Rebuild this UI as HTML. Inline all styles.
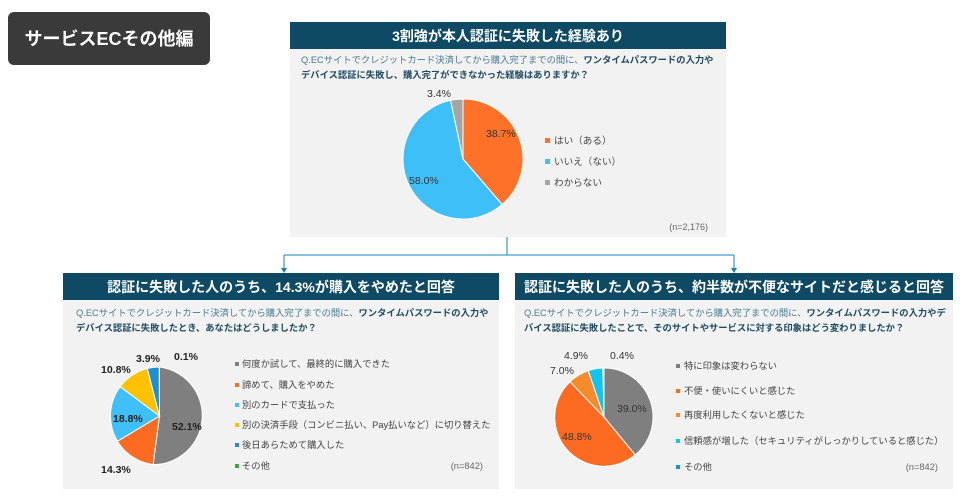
<!DOCTYPE html>
<html><head><meta charset="utf-8"><style>
body{margin:0;background:#fff;width:969px;height:499px;overflow:hidden;font-family:"Liberation Sans","Noto Sans CJK JP",sans-serif}
svg text{font-family:"Liberation Sans","Noto Sans CJK JP",sans-serif}
</style></head><body>
<svg width="969" height="499" viewBox="0 0 969 499" xmlns="http://www.w3.org/2000/svg">
<rect x="8" y="12" width="202" height="53" rx="6" fill="#3a3a3a"/>
<text x="109" y="45" font-size="18" font-weight="bold" fill="#fff" text-anchor="middle">サービスECその他編</text>

<!-- top panel -->
<rect x="290" y="22" width="436" height="215" fill="#f2f2f2"/>
<rect x="290" y="22" width="436" height="27" fill="#0e4a64"/>
<text x="508" y="41" font-size="14" font-weight="bold" fill="#fff" text-anchor="middle">3割強が本人認証に失敗した経験あり</text>
<text x="301" y="63" font-size="9.3" fill="#4a7a90">Q.ECサイトでクレジットカード決済してから購入完了までの間に、<tspan font-weight="bold" fill="#1e4a60">ワンタイムパスワードの入力や</tspan></text>
<text x="301" y="78" font-size="9.3" font-weight="bold" fill="#1e4a60">デバイス認証に失敗し、購入完了ができなかった経験はありますか？</text>
<path d="M463,159 L463,99 A60,60 0 0 1 502.1,204.5 Z" fill="#fd7128" stroke="#fff" stroke-width="1"/>
<path d="M463,159 L502.1,204.5 A60,60 0 1 1 450.6,100.3 Z" fill="#3fbff7" stroke="#fff" stroke-width="1"/>
<path d="M463,159 L450.6,100.3 A60,60 0 0 1 463,99 Z" fill="#a5a5a5" stroke="#fff" stroke-width="1"/>
<text x="486" y="137" font-size="10.5" fill="#333">38.7%</text>
<text x="409" y="184" font-size="10.5" fill="#333">58.0%</text>
<text x="427" y="97" font-size="10.5" fill="#333">3.4%</text>
<rect x="545" y="138" width="5" height="5" fill="#fd7128"/><text x="554" y="144" font-size="9.6" fill="#444">はい（ある）</text>
<rect x="545" y="159" width="5" height="5" fill="#3fbff7"/><text x="554" y="165" font-size="9.6" fill="#444">いいえ（ない）</text>
<rect x="545" y="180" width="5" height="5" fill="#a5a5a5"/><text x="554" y="186" font-size="9.6" fill="#444">わからない</text>
<text x="708" y="230" font-size="9" fill="#666" text-anchor="end">(n=2,176)</text>

<!-- connector -->
<g stroke="#1a7fb8" stroke-width="1" fill="none">
<path d="M507,237 V255 M284,255 H734 M284,255 V270 M734,255 V270"/></g>
<path d="M281,268 L287,268 L284,273 Z M731,268 L737,268 L734,273 Z" fill="#1a7fb8"/>

<!-- left panel -->
<rect x="63" y="273" width="436" height="216" fill="#f2f2f2"/>
<rect x="63" y="273" width="436" height="27" fill="#0e4a64"/>
<text x="281" y="292" font-size="14" font-weight="bold" fill="#fff" text-anchor="middle">認証に失敗した人のうち、14.3%が購入をやめたと回答</text>
<text x="76" y="316" font-size="9.3" fill="#4a7a90">Q.ECサイトでクレジットカード決済してから購入完了までの間に、<tspan font-weight="bold" fill="#1e4a60">ワンタイムパスワードの入力や</tspan></text>
<text x="76" y="331" font-size="9.3" font-weight="bold" fill="#1e4a60">デバイス認証に失敗したとき、あなたはどうしましたか？</text>
<g stroke="#fff" stroke-width="1">
<path d="M159.5,416 L159.5,367 A49,49 0 0 1 153.1,464.6 Z" fill="#7f7f7f"/>
<path d="M159.5,416 L153.1,464.6 A49,49 0 0 1 117.5,441.2 Z" fill="#fd6a22"/>
<path d="M159.5,416 L117.5,441.2 A49,49 0 0 1 120.2,386.7 Z" fill="#3fbff7"/>
<path d="M159.5,416 L120.2,386.7 A49,49 0 0 1 147.3,368.5 Z" fill="#ffc000"/>
<path d="M159.5,416 L147.3,368.5 A49,49 0 0 1 159.2,367 Z" fill="#1d8fd4"/>
</g>
<text x="172" y="430" font-size="10.5" fill="#222" font-weight="bold">52.1%</text>
<text x="113" y="422" font-size="10.5" fill="#222" font-weight="bold">18.8%</text>
<text x="101" y="473" font-size="10.5" fill="#222" font-weight="bold">14.3%</text>
<text x="101" y="373" font-size="10.5" fill="#222" font-weight="bold">10.8%</text>
<text x="136" y="362" font-size="10.5" fill="#222" font-weight="bold">3.9%</text>
<text x="174" y="360" font-size="10.5" fill="#222" font-weight="bold">0.1%</text>
<g font-size="9.3" fill="#444">
<rect x="235" y="362" width="4" height="4" fill="#7f7f7f"/><text x="242" y="367">何度か試して、最終的に購入できた</text>
<rect x="235" y="383" width="4" height="4" fill="#fd6a22"/><text x="242" y="388">諦めて、購入をやめた</text>
<rect x="235" y="403" width="4" height="4" fill="#3fbff7"/><text x="242" y="408">別のカードで支払った</text>
<rect x="235" y="423" width="4" height="4" fill="#ffc000"/><text x="242" y="428">別の決済手段（コンビニ払い、Pay払いなど）に切り替えた</text>
<rect x="235" y="443" width="4" height="4" fill="#1d8fd4"/><text x="242" y="448">後日あらためて購入した</text>
<rect x="235" y="464" width="4" height="4" fill="#3aa83a"/><text x="242" y="469">その他</text>
<text x="483" y="469" text-anchor="end" fill="#666">(n=842)</text></g>

<!-- right panel -->
<rect x="515" y="273" width="438" height="216" fill="#f2f2f2"/>
<rect x="515" y="273" width="438" height="27" fill="#0e4a64"/>
<text x="734" y="292" font-size="14" font-weight="bold" fill="#fff" text-anchor="middle">認証に失敗した人のうち、約半数が不便なサイトだと感じると回答</text>
<text x="524" y="316" font-size="9.3" fill="#4a7a90">Q.ECサイトでクレジットカード決済してから購入完了までの間に、<tspan font-weight="bold" fill="#1e4a60">ワンタイムパスワードの入力やデ</tspan></text>
<text x="524" y="331" font-size="9.3" font-weight="bold" fill="#1e4a60">バイス認証に失敗したことで、そのサイトやサービスに対する印象はどう変わりましたか？</text>
<g stroke="#fff" stroke-width="1">
<path d="M604,417 L604,368 A49,49 0 0 1 635.2,454.8 Z" fill="#7f7f7f"/>
<path d="M604,417 L635.2,454.8 A49,49 0 0 1 570,381.7 Z" fill="#fd6a22"/>
<path d="M604,417 L570,381.7 A49,49 0 0 1 588.3,370.6 Z" fill="#f78a2a"/>
<path d="M604,417 L588.3,370.6 A49,49 0 0 1 602.8,368 Z" fill="#10c4ef"/>
</g>
<text x="617" y="412" font-size="10.5" fill="#333">39.0%</text>
<text x="562" y="440" font-size="10.5" fill="#333">48.8%</text>
<text x="550" y="374" font-size="10.5" fill="#333">7.0%</text>
<text x="564" y="359" font-size="10.5" fill="#333">4.9%</text>
<text x="610" y="359" font-size="10.5" fill="#333">0.4%</text>
<g font-size="9.3" fill="#444">
<rect x="676" y="364" width="4" height="4" fill="#7f7f7f"/><text x="684" y="369">特に印象は変わらない</text>
<rect x="676" y="389" width="4" height="4" fill="#fd6a22"/><text x="684" y="394">不便・使いにくいと感じた</text>
<rect x="676" y="413" width="4" height="4" fill="#f78a2a"/><text x="684" y="418">再度利用したくないと感じた</text>
<rect x="676" y="439" width="4" height="4" fill="#10c4ef"/><text x="684" y="444">信頼感が増した（セキュリティがしっかりしていると感じた）</text>
<rect x="676" y="465" width="4" height="4" fill="#1d8fd4"/><text x="684" y="470">その他</text>
<text x="938" y="470" text-anchor="end" fill="#666">(n=842)</text></g>
</svg>
</body></html>
